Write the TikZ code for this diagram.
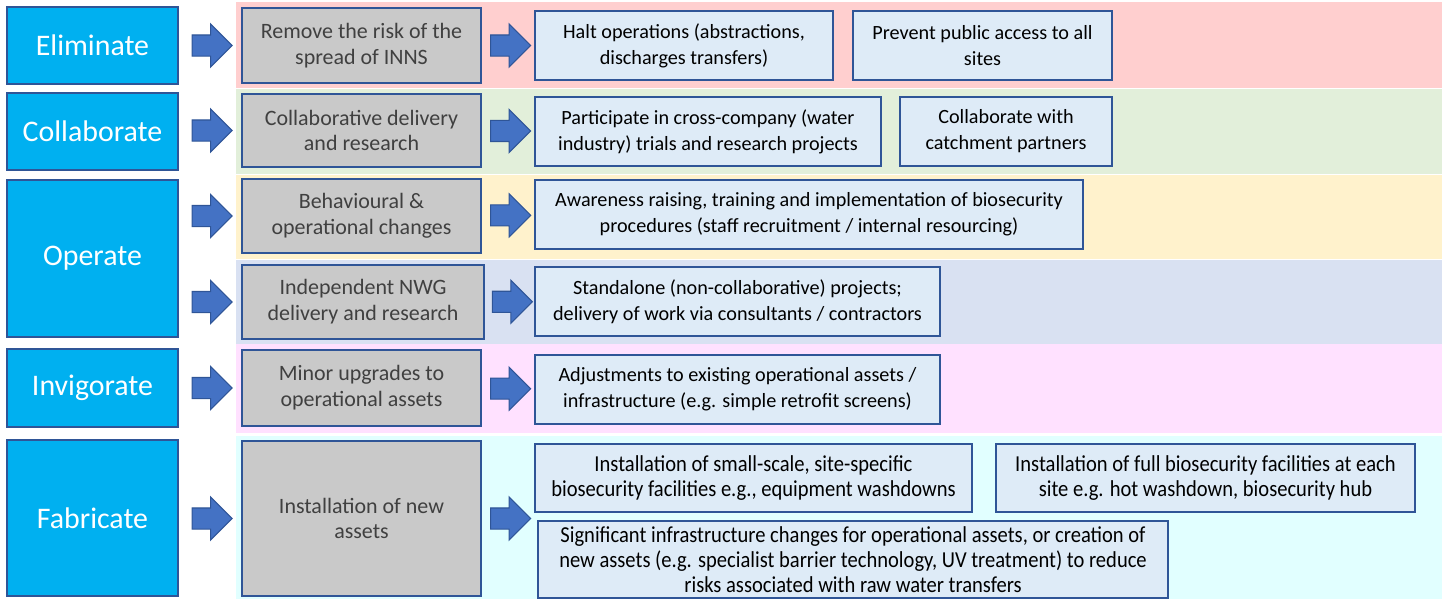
\documentclass[tikz,border=0pt]{standalone}
\usepackage{fontspec}
\setmainfont{Carlito}
\newfontfamily\narrowfont[FakeStretch=0.9]{Carlito}
\usepackage{tikz}
\usetikzlibrary{positioning}
\usetikzlibrary{shapes.arrows}
\usetikzlibrary{calc}
\usetikzlibrary{backgrounds}
\definecolor{stageblue}{HTML}{00B0F0}
\definecolor{edgeblue}{HTML}{2F5597}
\definecolor{arrowblue}{HTML}{4472C4}
\definecolor{boxgray}{HTML}{C9C9C9}
\definecolor{textgray}{HTML}{404040}
\definecolor{actionblue}{HTML}{DEEBF7}
\definecolor{bandred}{HTML}{FFCFCF}
\definecolor{bandgreen}{HTML}{E2EFDA}
\definecolor{bandyellow}{HTML}{FFF2CC}
\definecolor{bandblue}{HTML}{D9E1F2}
\definecolor{bandpink}{HTML}{FFE1FF}
\definecolor{bandcyan}{HTML}{E1FFFF}
\tikzstyle{stage}=[draw=edgeblue,fill=stageblue,line width=1.1pt,text=white,font=\fontsize{17}{20}\selectfont,minimum width=3.42cm]
\tikzstyle{means}=[draw=edgeblue,fill=boxgray,line width=1.1pt,text=textgray,align=center,font=\fontsize{12.5}{14.7}\selectfont,minimum width=4.78cm]
\tikzstyle{action}=[draw=edgeblue,fill=actionblue,line width=1.1pt,align=center,font=\fontsize{11.5}{14.7}\selectfont,minimum height=1.38cm]
\tikzstyle{narrow}=[font=\narrowfont\fontsize{13}{14.2}\selectfont]
\tikzstyle{fatarrow}=[single arrow,draw=edgeblue,fill=arrowblue,line width=0.6pt,minimum height=0.8cm,inner xsep=0pt,inner ysep=0.2cm,single arrow head extend=0.22cm]

\begin{document}
\begin{tikzpicture}[x=0.02cm,y=-0.02cm]
\useasboundingbox (0,0) rectangle (1442,599);
\node [stage,minimum height=1.54cm] (elim) at (92.5,45.5) {Eliminate};
\node [stage,minimum height=1.54cm] (coll) at (92.5,131.5) {Collaborate};
\node [stage,minimum height=3.14cm] (oper) at (92.5,258.5) {Operate};
\node [stage,minimum height=1.56cm] (invi) at (92.5,388) {Invigorate};
\node [stage,minimum height=3.12cm] (fabr) at (92.5,518) {Fabricate};

\node [means,minimum height=1.5cm] (g1) at (361.5,45.5) {Remove the risk of the\\spread of INNS};
\node [means,minimum height=1.46cm] (g2) at (361.5,130.5) {Collaborative delivery\\and research};
\node [means,minimum height=1.48cm] (g3) at (361.5,216) {Behavioural \&\\operational changes};
\node [means,minimum height=1.48cm,minimum width=4.84cm] (g4) at (363,302) {Independent NWG\\delivery and research};
\node [means,minimum height=1.52cm] (g5) at (361.5,388) {Minor upgrades to\\operational assets};
\node [means,minimum height=3.1cm] (g6) at (361.5,518.5) {Installation of new\\assets};

\node [action,minimum width=5.96cm] (h1) at (684,45.5) {Halt operations (abstractions,\\discharges transfers)};
\node [action,minimum width=5.18cm] (h2) at (982.5,45.5) {Prevent public access to all\\sites};
\node [action,minimum width=6.92cm] (c1) at (708,131.5) {Participate in cross-company (water\\industry) trials and research projects};
\node [action,minimum width=4.24cm] (c2) at (1006,131.5) {Collaborate with\\catchment partners};
\node [action,minimum width=10.96cm] (o1) at (809,214.5) {Awareness raising, training and implementation of biosecurity\\procedures (staff recruitment / internal resourcing)};
\node [action,minimum width=8.1cm] (o2) at (737.5,301.5) {Standalone (non-collaborative) projects;\\delivery of work via consultants / contractors};
\node [action,minimum width=8.1cm] (i1) at (737.5,389.5) {Adjustments to existing operational assets /\\infrastructure (e.g. simple retrofit screens)};
\node [action,narrow,minimum width=8.74cm,minimum height=1.36cm] (f1) at (753.5,478) {Installation of small-scale, site-specific\\biosecurity facilities e.g., equipment washdowns};
\node [action,narrow,minimum width=8.38cm,minimum height=1.36cm] (f2) at (1205.5,478) {Installation of full biosecurity facilities at each\\site e.g. hot washdown, biosecurity hub};
\node [action,narrow,minimum width=12.6cm,minimum height=1.46cm] (f3) at (853,559.5) {Significant infrastructure changes for operational assets, or creation of\\new assets (e.g. specialist barrier technology, UV treatment) to reduce\\risks associated with raw water transfers};

\node [fatarrow] (a1) at ($(elim.east |- g1)!.45!(g1.west)$) {};
\node [fatarrow] (a2) at ($(coll.east |- g2)!.45!(g2.west)$) {};
\node [fatarrow] (a3) at ($(oper.east |- g3)!.45!(g3.west)$) {};
\node [fatarrow] (a4) at ($(oper.east |- g4)!.45!(g4.west)$) {};
\node [fatarrow] (a5) at ($(invi.east |- g5)!.45!(g5.west)$) {};
\node [fatarrow] (a6) at ($(fabr.east |- g6)!.45!(g6.west)$) {};

\node [fatarrow] (b1) at ($(g1.east)!.45!(h1.west)$) {};
\node [fatarrow] (b2) at ($(g2.east)!.45!(c1.west)$) {};
\node [fatarrow] (b3) at ($(g3.east)!.45!(o1.west)$) {};
\node [fatarrow] (b4) at ($(g4.east)!.45!(o2.west)$) {};
\node [fatarrow] (b5) at ($(g5.east)!.45!(i1.west)$) {};
\node [fatarrow] (b6) at ($(g6.east)!.45!(g6.east -| f1.west)$) {};

\begin{scope}[on background layer]
	\fill [bandred] (236,2) rectangle (1442,88);
	\fill [bandgreen] (236,89) rectangle (1442,174);
	\fill [bandyellow] (236,175) rectangle (1442,259);
	\fill [bandblue] (236,260) rectangle (1442,344);
	\fill [bandpink] (236,344) rectangle (1442,433);
	\fill [bandcyan] (236,436) rectangle (1442,599);
\end{scope}
\end{tikzpicture}
\end{document}
